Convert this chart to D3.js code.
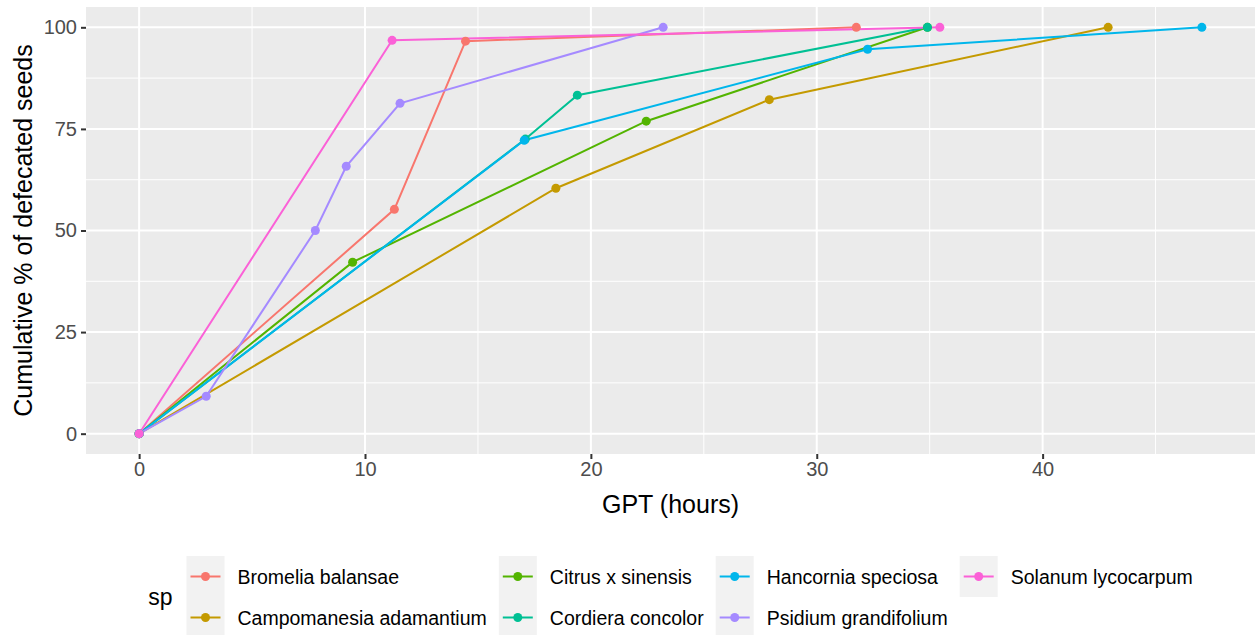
<!DOCTYPE html>
<html lang="en">
    <head>
        <meta charset="utf-8">
        <title>Cumulative defecated seeds</title>
        <script type="text/javascript" src="https://cdn.jsdelivr.net/npm/d3@7/dist/d3.min.js"></script>
<style>
    body { margin: 0; background: #ffffff; }
    text { font-family: "Liberation Sans", Arial, sans-serif; }
</style>
    </head>
    <body>
        <script type="text/javascript">
// species (legend order)
var species = ["Bromelia balansae", "Campomanesia adamantium", "Citrus x sinensis",
               "Cordiera concolor", "Hancornia speciosa", "Psidium grandifolium",
               "Solanum lycocarpum"];
var colors = ["#F8766D", "#C49A00", "#53B400", "#00C094", "#00B6EB", "#A58AFF", "#FB61D7"];

// GPT (hours) and cumulative % per species
var bromeliaGpt = [0, 11.3, 14.45, 31.75];
var bromeliaPct = [0, 55.2, 96.6, 100];
var campoGpt = [0, 18.45, 27.9, 42.9];
var campoPct = [0, 60.4, 82.2, 100];
var citrusGpt = [0, 9.45, 22.45, 34.9];
var citrusPct = [0, 42.2, 76.9, 100];
var cordieraGpt = [0, 17.1, 19.4, 34.9];
var cordieraPct = [0, 72.5, 83.3, 100];
var hancorniaGpt = [0, 17.05, 32.25, 47.05];
var hancorniaPct = [0, 72.2, 94.6, 100];
var psidiumGpt = [0, 2.97, 7.8, 9.17, 11.55, 23.2];
var psidiumPct = [0, 9.2, 50, 65.8, 81.3, 100];
var solanumGpt = [0, 11.2, 35.45];
var solanumPct = [0, 96.8, 100];

var xTicks = [0, 10, 20, 30, 40];
var yTicks = [0, 25, 50, 75, 100];

var gptList = [bromeliaGpt, campoGpt, citrusGpt, cordieraGpt, hancorniaGpt, psidiumGpt, solanumGpt];
var pctList = [bromeliaPct, campoPct, citrusPct, cordieraPct, hancorniaPct, psidiumPct, solanumPct];

var series = species.map(function(s, i) {
    return {
        name: s,
        color: colors[i],
        values: gptList[i].map(function(g, j) { return { x: g, y: pctList[i][j] }; })
    };
});

//Width and height
var w = 1260;
var h = 635;
var pLeft = 86, pRight = 1255, pTop = 7, pBottom = 454;

var svg = d3.select("body")
            .append("svg")
            .attr("width", w)
            .attr("height", h);

// ggplot style 5% expansion
var xMax = d3.max(gptList, function(a) { return d3.max(a); });
var xPad = xMax * 0.05;
var xScale = d3.scaleLinear()
               .domain([0 - xPad, xMax + xPad])
               .range([pLeft, pRight]);
var yScale = d3.scaleLinear()
               .domain([-5, 105])
               .range([pBottom, pTop]);

// panel background
svg.append("rect")
   .attr("x", pLeft)
   .attr("y", pTop)
   .attr("width", pRight - pLeft)
   .attr("height", pBottom - pTop)
   .attr("fill", "#EBEBEB");

// minor grid
var xMinor = xTicks.map(function(d) { return d + 5; });
var yMinor = [12.5, 37.5, 62.5, 87.5];
svg.selectAll("line.xminor")
   .data(xMinor.filter(function(d) { return xScale(d) < pRight; }))
   .enter().append("line")
   .attr("x1", function(d) { return xScale(d); })
   .attr("x2", function(d) { return xScale(d); })
   .attr("y1", pTop).attr("y2", pBottom)
   .attr("stroke", "#ffffff").attr("stroke-width", 1);
svg.selectAll("line.yminor")
   .data(yMinor)
   .enter().append("line")
   .attr("y1", function(d) { return yScale(d); })
   .attr("y2", function(d) { return yScale(d); })
   .attr("x1", pLeft).attr("x2", pRight)
   .attr("stroke", "#ffffff").attr("stroke-width", 1);

// major grid
svg.selectAll("line.xmajor")
   .data(xTicks)
   .enter().append("line")
   .attr("x1", function(d) { return xScale(d); })
   .attr("x2", function(d) { return xScale(d); })
   .attr("y1", pTop).attr("y2", pBottom)
   .attr("stroke", "#ffffff").attr("stroke-width", 2);
svg.selectAll("line.ymajor")
   .data(yTicks)
   .enter().append("line")
   .attr("y1", function(d) { return yScale(d); })
   .attr("y2", function(d) { return yScale(d); })
   .attr("x1", pLeft).attr("x2", pRight)
   .attr("stroke", "#ffffff").attr("stroke-width", 2);

// axes
var xAxis = d3.axisBottom(xScale).tickValues(xTicks).tickSize(5).tickPadding(3);
var yAxis = d3.axisLeft(yScale).tickValues(yTicks).tickSize(5).tickPadding(4);

var gx = svg.append("g")
   .attr("transform", "translate(0," + pBottom + ")")
   .call(xAxis);
var gy = svg.append("g")
   .attr("transform", "translate(" + pLeft + ",0)")
   .call(yAxis);

[gx, gy].forEach(function(g) {
    g.select(".domain").remove();
    g.selectAll(".tick line").attr("stroke", "#333333").attr("stroke-width", 2);
    g.selectAll(".tick text")
     .attr("fill", "#4D4D4D")
     .style("font-size", "20px")
     .style("font-family", "'Liberation Sans', Arial, sans-serif");
});

// lines
var line = d3.line()
    .x(function(d) { return xScale(d.x); })
    .y(function(d) { return yScale(d.y); });

svg.selectAll("path.series")
   .data(series)
   .enter().append("path")
   .attr("d", function(d) { return line(d.values); })
   .attr("fill", "none")
   .attr("stroke", function(d) { return d.color; })
   .attr("stroke-width", 2);

// points
series.forEach(function(s) {
    svg.selectAll(null)
       .data(s.values)
       .enter().append("circle")
       .attr("cx", function(d) { return xScale(d.x); })
       .attr("cy", function(d) { return yScale(d.y); })
       .attr("r", 4.5)
       .attr("fill", s.color);
});

// axis titles
svg.append("text")
   .attr("x", (pLeft + pRight) / 2)
   .attr("y", 513)
   .attr("text-anchor", "middle")
   .attr("font-size", "25px")
   .attr("fill", "#000000")
   .text("GPT (hours)");

svg.append("text")
   .attr("transform", "translate(32," + (pTop + pBottom) / 2 + ") rotate(-90)")
   .attr("text-anchor", "middle")
   .attr("font-size", "25px")
   .attr("fill", "#000000")
   .text("Cumulative % of defecated seeds");

// legend: 4 columns x 2 rows, filled by column
var nrow = 2;
var keyW = 38, rowH = 41, textOff = 51, colGap = 12;
var legendTop = 556;
var legend = svg.append("g");

var title = legend.append("text")
   .attr("x", 0)
   .attr("y", legendTop + rowH)
   .attr("dominant-baseline", "central")
   .attr("font-size", "23px")
   .attr("fill", "#000000")
   .text("sp");
var titleW = title.node().getComputedTextLength();

var colX = titleW + 14;
var ncol = Math.ceil(species.length / nrow);
for (var c = 0; c < ncol; c++) {
    var members = series.slice(c * nrow, c * nrow + nrow);
    var maxW = 0;
    members.forEach(function(s, r) {
        var cy = legendTop + r * rowH + rowH / 2;
        legend.append("rect")
              .attr("x", colX)
              .attr("y", legendTop + r * rowH)
              .attr("width", keyW)
              .attr("height", rowH)
              .attr("fill", "#F2F2F2");
        legend.append("line")
              .attr("x1", colX + 4).attr("x2", colX + keyW - 4)
              .attr("y1", cy).attr("y2", cy)
              .attr("stroke", s.color).attr("stroke-width", 2);
        legend.append("circle")
              .attr("cx", colX + keyW / 2).attr("cy", cy)
              .attr("r", 4.5).attr("fill", s.color);
        var t = legend.append("text")
              .attr("x", colX + textOff)
              .attr("y", cy)
              .attr("dominant-baseline", "central")
              .attr("font-size", "19.5px")
              .attr("fill", "#000000")
              .text(s.name);
        maxW = Math.max(maxW, t.node().getComputedTextLength());
    });
    colX += textOff + maxW + colGap;
}
var legendW = colX - colGap;
legend.attr("transform", "translate(" + ((pLeft + pRight) / 2 - legendW / 2) + ",0)");

       </script>
    </body>
</html>
